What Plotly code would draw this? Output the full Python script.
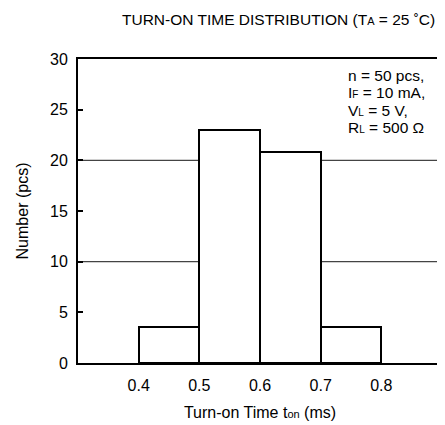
import plotly.graph_objects as go

# Data
bin_centers = [0.45, 0.55, 0.65, 0.75]
counts = [3.6, 23, 20.8, 3.6]
bin_width = 0.1
x_ticks = [0.4, 0.5, 0.6, 0.7, 0.8]
y_ticks = [0, 5, 10, 15, 20, 25, 30]
grid_values = [10, 20]
note_lines = [
    "n = 50 pcs,",
    "I<span style='font-size:10px'>F</span> = 10 mA,",
    "V<span style='font-size:10px'>L</span> = 5 V,",
    "R<span style='font-size:10px'>L</span> = 500 Ω",
]

FONT = "Liberation Sans, Arial, sans-serif"

fig = go.Figure()
fig.add_trace(go.Bar(
    x=bin_centers, y=counts, width=bin_width,
    marker=dict(color="white", line=dict(color="black", width=2)),
    showlegend=False,
))

for g in grid_values:
    fig.add_shape(type="line", xref="paper", x0=0, x1=1, yref="y", y0=g, y1=g,
                  line=dict(color="#444444", width=1.3), layer="below")

fig.update_layout(
    width=437, height=417,
    margin=dict(l=70, r=1, t=51, b=62),
    paper_bgcolor="white", plot_bgcolor="white",
    font=dict(family=FONT, size=16, color="black"),
    xaxis=dict(range=[0.3, 0.9], tickvals=x_ticks, ticktext=[f"{v:.1f}" for v in x_ticks],
               showgrid=False, zeroline=False, showline=True, linecolor="black", linewidth=2,
               mirror=True, ticks="", tickfont=dict(size=16), ticklabelstandoff=7,
               title=dict(text="Turn-on Time t<span style='font-size:11px'>on</span> (ms)",
                          font=dict(size=16), standoff=14)),
    yaxis=dict(range=[0, 30], tickvals=y_ticks, showgrid=False, zeroline=False,
               showline=True, linecolor="black", linewidth=2, mirror=True,
               ticks="inside", ticklen=5, tickcolor="black", tickwidth=1.5,
               tickfont=dict(size=16), ticklabelstandoff=5,
               title=dict(text="Number (pcs)", font=dict(size=16), standoff=17)),
    bargap=0,
)

fig.add_annotation(
    xref="paper", yref="paper", x=0.55, y=1.0, yshift=40, yanchor="middle",
    text="TURN-ON TIME DISTRIBUTION (T<span style='font-size:11px'>A</span> = 25 ˚C)",
    showarrow=False, font=dict(size=15.5),
)
for i, line in enumerate(note_lines):
    fig.add_annotation(
        xref="paper", yref="paper", x=0.735, y=0.946, xanchor="left", yanchor="middle",
        yshift=-17.5 * i, text=line, align="left", showarrow=False, font=dict(size=15.5),
    )

fig.write_html("out.html")
